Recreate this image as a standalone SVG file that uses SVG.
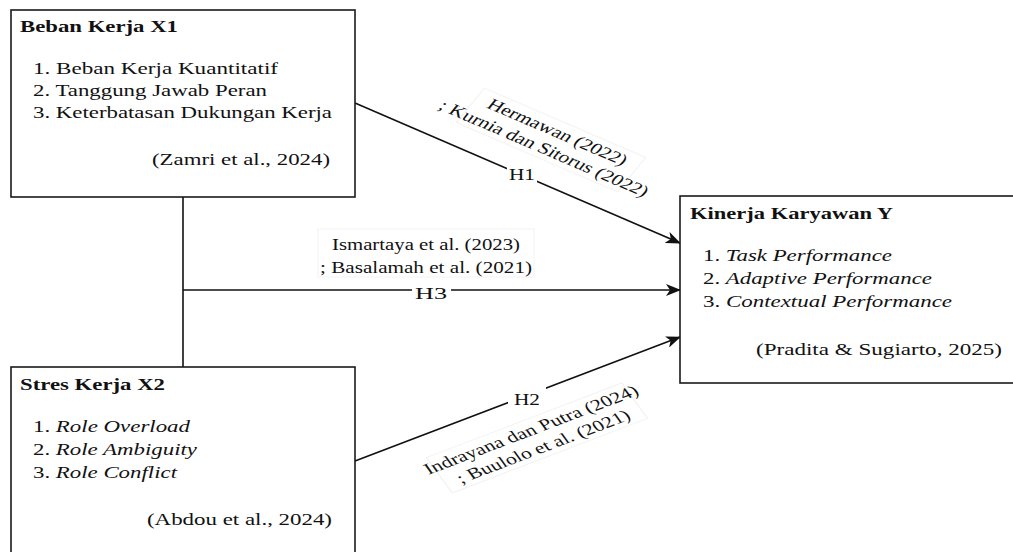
<svg xmlns="http://www.w3.org/2000/svg" width="1013" height="552" viewBox="0 0 1013 552">
  <style>
    .box { fill: #ffffff; stroke: #1a1a1a; stroke-width: 1.6; }
    .t { font-family: "Liberation Serif", "Times New Roman", serif; font-size: 16.5px; fill: #111111; }
    .r { font-size: 15.8px; }
    .b { font-weight: bold; }
    .i { font-style: italic; }
    .edge { fill: none; stroke: #111111; stroke-width: 1.6; }
    .lblbg { fill: #ffffff; stroke: none; }
    .lblbox { fill: #ffffff; stroke: #f3f3f3; stroke-width: 1; }
  </style>
  <defs>
    <marker id="arrow" viewBox="0 0 15 12" refX="14" refY="6" markerWidth="15" markerHeight="12" markerUnits="userSpaceOnUse" orient="auto">
      <path d="M0,0 L15,6 L0,12 L4,6 Z" fill="#111111"/>
    </marker>
  </defs>
  <rect x="0" y="0" width="1013" height="552" fill="#ffffff"/>

  <g id="connectors">
    <line class="edge" x1="183" y1="197" x2="183" y2="367"/>
    <line class="edge" x1="183" y1="290" x2="680" y2="290" marker-end="url(#arrow)"/>
    <line class="edge" x1="355" y1="103" x2="680" y2="243" marker-end="url(#arrow)"/>
    <line class="edge" x1="355" y1="461" x2="680" y2="337" marker-end="url(#arrow)"/>

    <g id="label-h1">
      <g transform="translate(551,140) scale(1.38,1) rotate(30.7)">
        <rect class="lblbox" x="-68" y="-20" width="136" height="40"/>
        <text class="t r" x="0" y="-4" text-anchor="middle">Hermawan (2022)</text>
        <text class="t r" x="0" y="15" text-anchor="middle">; Kurnia dan Sitorus (2022)</text>
      </g>
      <rect class="lblbg" x="507" y="165" width="30" height="19"/>
      <text class="t" x="522" y="179.5" text-anchor="middle" textLength="26" lengthAdjust="spacingAndGlyphs">H1</text>
    </g>

    <g id="label-h3">
      <rect class="lblbox" x="318" y="229" width="216" height="48"/>
      <text class="t" x="426" y="250" text-anchor="middle" textLength="188" lengthAdjust="spacingAndGlyphs">Ismartaya et al. (2023)</text>
      <text class="t" x="426" y="273" text-anchor="middle" textLength="212" lengthAdjust="spacingAndGlyphs">; Basalamah et al. (2021)</text>
      <rect class="lblbg" x="412" y="281" width="39" height="21"/>
      <text class="t" x="431" y="299" text-anchor="middle" textLength="32" lengthAdjust="spacingAndGlyphs">H3</text>
    </g>

    <g id="label-h2">
      <g transform="translate(537,438) scale(1.38,1) rotate(-27.8)">
        <rect class="lblbox" x="-80" y="-20" width="160" height="40"/>
        <text class="t r" x="0" y="-4" text-anchor="middle">Indrayana dan Putra (2024)</text>
        <text class="t r" x="0" y="15" text-anchor="middle">; Buulolo et al. (2021)</text>
      </g>
      <rect class="lblbg" x="508" y="387" width="38" height="21"/>
      <text class="t" x="527" y="405" text-anchor="middle" textLength="26" lengthAdjust="spacingAndGlyphs">H2</text>
    </g>
  </g>

  <g id="node-x1">
    <rect class="box" x="11" y="10" width="344" height="187"/>
    <text class="t b" x="20" y="32" textLength="158" lengthAdjust="spacingAndGlyphs">Beban Kerja X1</text>
    <text class="t" x="33" y="74" textLength="245" lengthAdjust="spacingAndGlyphs">1. Beban Kerja Kuantitatif</text>
    <text class="t" x="33" y="96" textLength="234" lengthAdjust="spacingAndGlyphs">2. Tanggung Jawab Peran</text>
    <text class="t" x="33" y="118" textLength="299" lengthAdjust="spacingAndGlyphs">3. Keterbatasan Dukungan Kerja</text>
    <text class="t" x="152" y="165" textLength="178" lengthAdjust="spacingAndGlyphs">(Zamri et al., 2024)</text>
  </g>

  <g id="node-x2">
    <rect class="box" x="11" y="367" width="344" height="200"/>
    <text class="t b" x="20" y="390" textLength="145" lengthAdjust="spacingAndGlyphs">Stres Kerja X2</text>
    <text class="t" x="33" y="432" textLength="157" lengthAdjust="spacingAndGlyphs">1. <tspan class="i">Role Overload</tspan></text>
    <text class="t" x="33" y="455" textLength="164" lengthAdjust="spacingAndGlyphs">2. <tspan class="i">Role Ambiguity</tspan></text>
    <text class="t" x="33" y="478" textLength="144" lengthAdjust="spacingAndGlyphs">3. <tspan class="i">Role Conflict</tspan></text>
    <text class="t" x="147" y="525" textLength="185" lengthAdjust="spacingAndGlyphs">(Abdou et al., 2024)</text>
  </g>

  <g id="node-y">
    <rect class="box" x="680" y="196" width="345" height="187"/>
    <text class="t b" x="690" y="219" textLength="203" lengthAdjust="spacingAndGlyphs">Kinerja Karyawan Y</text>
    <text class="t" x="703" y="261" textLength="189" lengthAdjust="spacingAndGlyphs">1. <tspan class="i">Task Performance</tspan></text>
    <text class="t" x="703" y="284" textLength="229" lengthAdjust="spacingAndGlyphs">2. <tspan class="i">Adaptive Performance</tspan></text>
    <text class="t" x="703" y="307" textLength="249" lengthAdjust="spacingAndGlyphs">3. <tspan class="i">Contextual Performance</tspan></text>
    <text class="t" x="756" y="355" textLength="246" lengthAdjust="spacingAndGlyphs">(Pradita &amp; Sugiarto, 2025)</text>
  </g>
</svg>
